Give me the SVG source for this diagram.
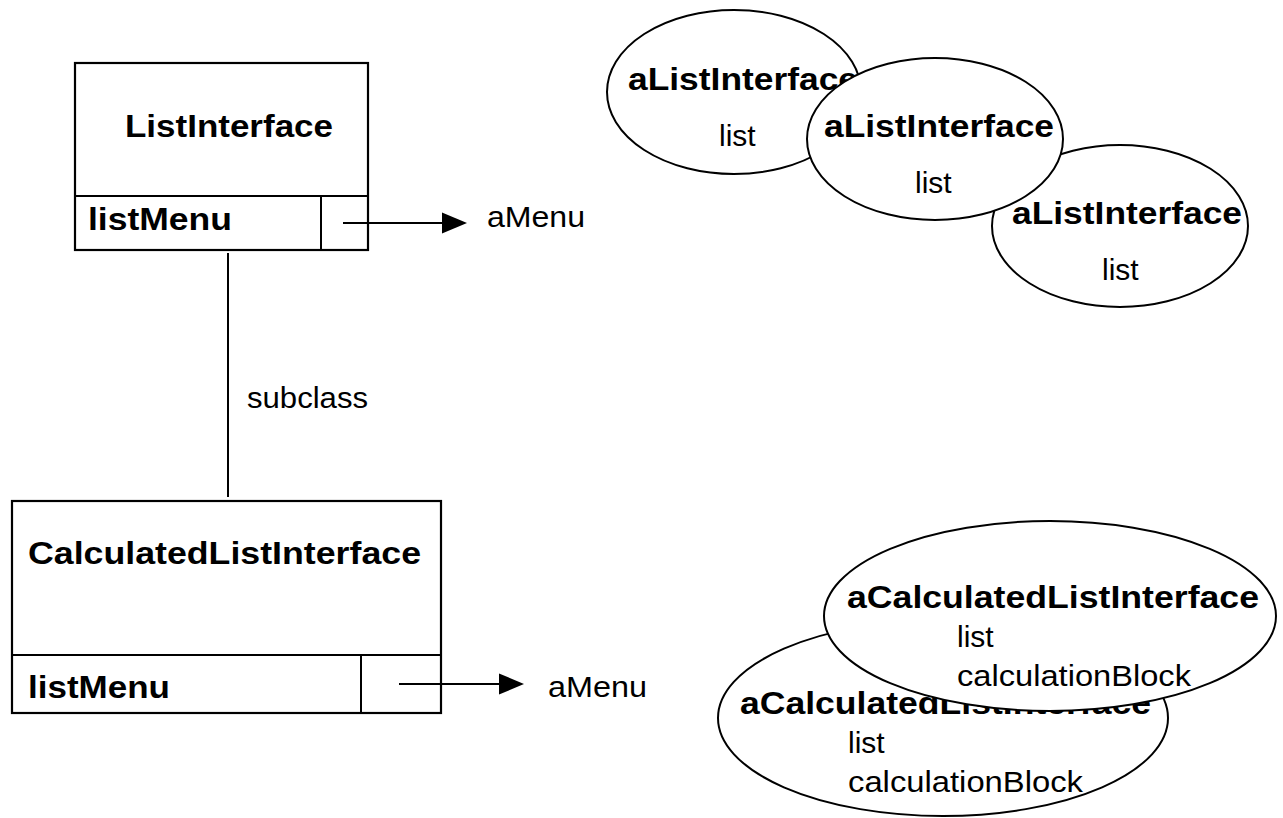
<svg xmlns="http://www.w3.org/2000/svg" width="1283" height="818" viewBox="0 0 1283 818">
<style>
.box{fill:#fff;stroke:#000;stroke-width:2.2}
.ln{fill:none;stroke:#000;stroke-width:2}
.ell{fill:#fff;stroke:#000;stroke-width:2}
.b{font-family:"Liberation Sans",Arial,sans-serif;font-weight:bold;font-size:31px;fill:#000}
.r{font-family:"Liberation Sans",Arial,sans-serif;font-size:30px;fill:#000}
</style>
<rect width="1283" height="818" fill="#fff"/>

<g id="ListInterface">
<rect class="box" x="75" y="63" width="293" height="187"/>
<line class="ln" x1="75" y1="196" x2="368" y2="196"/>
<line class="ln" x1="321" y1="196" x2="321" y2="250"/>
<text class="b" x="125" y="137" textLength="208" lengthAdjust="spacingAndGlyphs">ListInterface</text>
<text class="b" x="88" y="230" textLength="144" lengthAdjust="spacingAndGlyphs">listMenu</text>
</g>

<g id="CalculatedListInterface">
<rect class="box" x="12" y="501" width="429" height="212"/>
<line class="ln" x1="12" y1="655" x2="441" y2="655"/>
<line class="ln" x1="361" y1="655" x2="361" y2="713"/>
<text class="b" x="28" y="564" textLength="393" lengthAdjust="spacingAndGlyphs">CalculatedListInterface</text>
<text class="b" x="28" y="698" textLength="142" lengthAdjust="spacingAndGlyphs">listMenu</text>
</g>

<g id="connectors">
<line class="ln" x1="228" y1="253" x2="228" y2="497"/>
<line class="ln" x1="343" y1="223" x2="444" y2="223"/>
<polygon points="442,212.5 467,223 442,233.5" fill="#000"/>
<line class="ln" x1="399" y1="684" x2="500" y2="684"/>
<polygon points="499,673.5 524,684 499,694.5" fill="#000"/>
</g>

<g id="labels">
<text class="r" x="487" y="227" textLength="98" lengthAdjust="spacingAndGlyphs">aMenu</text>
<text class="r" x="548" y="697" textLength="99" lengthAdjust="spacingAndGlyphs">aMenu</text>
<text class="r" x="247" y="408" textLength="121" lengthAdjust="spacingAndGlyphs">subclass</text>
</g>

<g id="aListInterface1">
<ellipse class="ell" cx="734" cy="92" rx="127" ry="82"/>
<text class="b" x="628" y="90" textLength="230" lengthAdjust="spacingAndGlyphs">aListInterface</text>
<text class="r" x="719" y="146">list</text>
</g>

<g id="aListInterface3">
<ellipse class="ell" cx="1120" cy="226" rx="128" ry="81"/>
<text class="b" x="1012" y="224" textLength="230" lengthAdjust="spacingAndGlyphs">aListInterface</text>
<text class="r" x="1102" y="280">list</text>
</g>

<g id="aListInterface2">
<ellipse class="ell" cx="935" cy="139" rx="128" ry="81"/>
<text class="b" x="824" y="137" textLength="230" lengthAdjust="spacingAndGlyphs">aListInterface</text>
<text class="r" x="915" y="193">list</text>
</g>

<g id="aCalculatedListInterface2">
<ellipse class="ell" cx="943" cy="718" rx="225" ry="98"/>
<text class="b" x="740" y="714" textLength="411" lengthAdjust="spacingAndGlyphs">aCalculatedListInterface</text>
<text class="r" x="848" y="753">list</text>
<text class="r" x="848" y="792" textLength="235" lengthAdjust="spacingAndGlyphs">calculationBlock</text>
</g>

<g id="aCalculatedListInterface1">
<ellipse class="ell" cx="1050" cy="616" rx="226" ry="95"/>
<text class="b" x="847" y="608" textLength="412" lengthAdjust="spacingAndGlyphs">aCalculatedListInterface</text>
<text class="r" x="957" y="647">list</text>
<text class="r" x="957" y="686" textLength="234" lengthAdjust="spacingAndGlyphs">calculationBlock</text>
</g>
</svg>
